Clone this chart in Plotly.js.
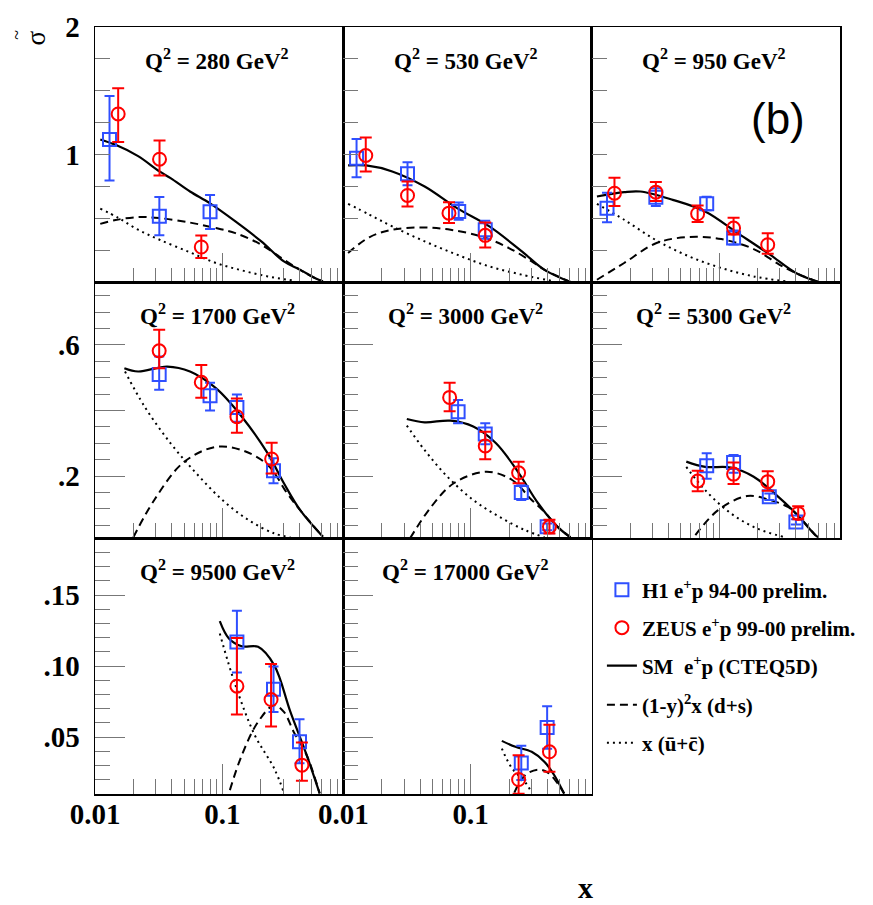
<!DOCTYPE html>
<html>
<head>
<meta charset="utf-8">
<script src="https://cdn.plot.ly/plotly-3.0.1.min.js"></script>
<style>html,body{margin:0;padding:0;background:#fff;}#chart{width:873px;height:905px;}</style>
</head>
<body>
<div id="chart"></div>
<script>
// ---------------- data ----------------
const q2Values = [280, 530, 950, 1700, 3000, 5300, 9500, 17000];

// Q2 = 280
const h1X_280 = [0.013, 0.032, 0.080];
const h1Y_280 = [1.12, 0.52, 0.555];
const h1Up_280 = [0.34, 0.15, 0.13];
const h1Dn_280 = [0.32, 0.15, 0.135];
const zeusX_280 = [0.0152, 0.0321, 0.0683];
const zeusY_280 = [1.32, 0.966, 0.279];
const zeusUp_280 = [0.20, 0.146, 0.09];
const zeusDn_280 = [0.22, 0.128, 0.086];
const smX_280 = [0.0110, 0.0145, 0.0218, 0.0321, 0.0392, 0.0557, 0.080, 0.1265, 0.202, 0.304, 0.408, 0.547, 0.615];
const smY_280 = [1.12, 1.078, 0.99, 0.87, 0.818, 0.713, 0.62, 0.479, 0.323, 0.166, 0.10, 0.03, 0.01];
const dsX_280 = [0.0110, 0.0145, 0.0218, 0.0321, 0.0557, 0.0889, 0.1265, 0.202, 0.304, 0.408, 0.547, 0.615];
const dsY_280 = [0.46, 0.49, 0.513, 0.505, 0.47, 0.427, 0.388, 0.297, 0.18, 0.10, 0.03, 0.01];
const ucX_280 = [0.0110, 0.01535, 0.0218, 0.0321, 0.0557, 0.0889, 0.142, 0.227, 0.363];
const ucY_280 = [0.58, 0.505, 0.414, 0.336, 0.237, 0.154, 0.096, 0.049, 0.016];

// Q2 = 530
const h1X_530 = [0.0127, 0.0319, 0.0805, 0.130];
const h1Y_530 = [0.974, 0.852, 0.557, 0.414];
const h1Up_530 = [0.15, 0.09, 0.07, 0.07];
const h1Dn_530 = [0.15, 0.09, 0.065, 0.07];
const zeusX_530 = [0.0150, 0.0319, 0.0675, 0.130];
const zeusY_530 = [0.995, 0.682, 0.544, 0.37];
const zeusUp_530 = [0.14, 0.11, 0.086, 0.10];
const zeusDn_530 = [0.125, 0.086, 0.078, 0.094];
const smX_530 = [0.0109, 0.0151, 0.0242, 0.0435, 0.078, 0.140, 0.252, 0.380, 0.607];
const smY_530 = [0.917, 0.917, 0.87, 0.752, 0.583, 0.44, 0.245, 0.10, 0.005];
const dsX_530 = [0.0109, 0.0161, 0.0242, 0.041, 0.0695, 0.125, 0.1995, 0.301, 0.38, 0.607];
const dsY_530 = [0.232, 0.357, 0.414, 0.432, 0.414, 0.357, 0.271, 0.166, 0.10, 0.005];
const ucX_530 = [0.0109, 0.0161, 0.0242, 0.0435, 0.078, 0.140, 0.252, 0.453];
const ucY_530 = [0.617, 0.531, 0.44, 0.323, 0.219, 0.127, 0.0625, 0.01];

// Q2 = 950
const h1X_950 = [0.0132, 0.0319, 0.080, 0.130];
const h1Y_950 = [0.583, 0.669, 0.617, 0.349];
const h1Up_950 = [0.12, 0.07, 0.055, 0.06];
const h1Dn_950 = [0.11, 0.07, 0.05, 0.05];
const zeusX_950 = [0.0151, 0.0319, 0.0679, 0.130, 0.241];
const zeusY_950 = [0.70, 0.708, 0.539, 0.427, 0.297];
const zeusUp_950 = [0.12, 0.08, 0.065, 0.08, 0.09];
const zeusDn_950 = [0.10, 0.07, 0.065, 0.05, 0.07];
const smX_950 = [0.011, 0.018, 0.0241, 0.0433, 0.0778, 0.140, 0.251, 0.401, 0.605];
const smY_950 = [0.674, 0.708, 0.713, 0.648, 0.557, 0.388, 0.219, 0.076, 0.005];
const dsX_950 = [0.011, 0.018, 0.0323, 0.058, 0.104, 0.187, 0.299, 0.401, 0.605];
const dsY_950 = [0.023, 0.154, 0.31, 0.357, 0.341, 0.263, 0.14, 0.076, 0.005];
const ucX_950 = [0.011, 0.018, 0.0323, 0.058, 0.104, 0.187, 0.336];
const ucY_950 = [0.617, 0.492, 0.33, 0.206, 0.115, 0.049, 0.01];

// Q2 = 1700
const h1X_1700 = [0.0319, 0.080, 0.130, 0.252];
const h1Y_1700 = [0.51, 0.445, 0.409, 0.216];
const h1Up_1700 = [0.055, 0.04, 0.04, 0.038];
const h1Dn_1700 = [0.047, 0.045, 0.043, 0.038];
const zeusX_1700 = [0.0319, 0.0683, 0.130, 0.2436];
const zeusY_1700 = [0.582, 0.486, 0.381, 0.252];
const zeusUp_1700 = [0.064, 0.053, 0.056, 0.05];
const zeusDn_1700 = [0.053, 0.047, 0.049, 0.044];
const smX_1700 = [0.017, 0.0218, 0.0369, 0.0557, 0.0889, 0.142, 0.227, 0.304, 0.408, 0.615];
const smY_1700 = [0.529, 0.519, 0.534, 0.519, 0.468, 0.381, 0.269, 0.178, 0.096, 0.015];
const dsX_1700 = [0.02, 0.0292, 0.0496, 0.0889, 0.142, 0.227, 0.323, 0.408, 0.615];
const dsY_1700 = [0.013, 0.127, 0.242, 0.289, 0.279, 0.234, 0.147, 0.096, 0.015];
const ucX_1700 = [0.0172, 0.0245, 0.0392, 0.0625, 0.1, 0.16, 0.255, 0.342];
const ucY_1700 = [0.519, 0.412, 0.30, 0.208, 0.127, 0.066, 0.025, 0.013];

// Q2 = 3000
const h1X_3000 = [0.0796, 0.130, 0.2494, 0.398];
const h1Y_3000 = [0.396, 0.328, 0.15, 0.045];
const h1Up_3000 = [0.036, 0.033, 0.022, 0.01];
const h1Dn_3000 = [0.035, 0.031, 0.023, 0.01];
const zeusX_3000 = [0.0683, 0.130, 0.2376, 0.415];
const zeusY_3000 = [0.44, 0.292, 0.21, 0.045];
const zeusUp_3000 = [0.045, 0.043, 0.034, 0.022];
const zeusDn_3000 = [0.042, 0.041, 0.032, 0.02];
const smX_3000 = [0.0315, 0.0435, 0.0695, 0.1047, 0.158, 0.2376, 0.338, 0.481, 0.607];
const smY_3000 = [0.374, 0.364, 0.369, 0.351, 0.30, 0.21, 0.117, 0.045, 0.013];
const dsX_3000 = [0.0334, 0.0489, 0.0736, 0.1324, 0.2115, 0.301, 0.38, 0.481, 0.607];
const dsY_3000 = [0.01, 0.106, 0.178, 0.213, 0.188, 0.127, 0.09, 0.045, 0.013];
const ucX_3000 = [0.0315, 0.0435, 0.0656, 0.1047, 0.167, 0.267, 0.38];
const ucY_3000 = [0.354, 0.279, 0.198, 0.127, 0.076, 0.035, 0.013];

// Q2 = 5300
const h1X_5300 = [0.080, 0.130, 0.248, 0.401];
const h1Y_5300 = [0.2315, 0.241, 0.137, 0.06];
const h1Up_5300 = [0.038, 0.023, 0.01, 0.008];
const h1Dn_5300 = [0.04, 0.031, 0.01, 0.008];
const zeusX_5300 = [0.068, 0.130, 0.241, 0.418];
const zeusY_5300 = [0.185, 0.206, 0.183, 0.086];
const zeusUp_5300 = [0.031, 0.035, 0.032, 0.022];
const zeusDn_5300 = [0.031, 0.03, 0.028, 0.018];
const smX_5300 = [0.0553, 0.0778, 0.124, 0.187, 0.282, 0.401, 0.570, 0.605];
const smY_5300 = [0.244, 0.228, 0.226, 0.198, 0.142, 0.086, 0.02, 0.013];
const dsX_5300 = [0.0652, 0.0983, 0.166, 0.251, 0.35, 0.401, 0.57];
const dsY_5300 = [0.02, 0.096, 0.139, 0.127, 0.105, 0.086, 0.02];
const ucX_5300 = [0.0553, 0.0778, 0.124, 0.1986, 0.317];
const ucY_5300 = [0.228, 0.157, 0.086, 0.04, 0.015];

// Q2 = 9500
const h1X_9500 = [0.130, 0.252, 0.403];
const h1Y_9500 = [0.1171, 0.0838, 0.0467];
const h1Up_9500 = [0.022, 0.016, 0.016];
const h1Dn_9500 = [0.0215, 0.016, 0.015];
const zeusX_9500 = [0.130, 0.241, 0.421];
const zeusY_9500 = [0.0859, 0.0765, 0.0303];
const zeusUp_9500 = [0.034, 0.025, 0.016];
const zeusDn_9500 = [0.020, 0.019, 0.011];
const smX_9500 = [0.0954, 0.1125, 0.142, 0.1906, 0.255, 0.342, 0.459, 0.58];
const smY_9500 = [0.1317, 0.1195, 0.114, 0.1136, 0.1007, 0.0678, 0.0373, 0.0104];
const dsX_9500 = [0.1145, 0.142, 0.1906, 0.255, 0.304, 0.363, 0.459, 0.58];
const dsY_9500 = [0.0127, 0.0373, 0.0608, 0.0725, 0.0678, 0.0537, 0.0373, 0.0104];
const ucX_9500 = [0.0954, 0.1265, 0.1796, 0.255, 0.304];
const ucY_9500 = [0.123, 0.0866, 0.0514, 0.028, 0.011];

// Q2 = 17000
const h1X_17000 = [0.2494, 0.398];
const h1Y_17000 = [0.0319, 0.0568];
const h1Up_17000 = [0.012, 0.015];
const h1Dn_17000 = [0.012, 0.015];
const zeusX_17000 = [0.2376, 0.415];
const zeusY_17000 = [0.0202, 0.0397];
const zeusUp_17000 = [0.017, 0.019];
const zeusDn_17000 = [0.01, 0.014];
const smX_17000 = [0.1755, 0.2244, 0.301, 0.380, 0.453, 0.541];
const smY_17000 = [0.0474, 0.0432, 0.0397, 0.0326, 0.0232, 0.0103];
const dsX_17000 = [0.22, 0.267, 0.338, 0.403, 0.481, 0.541];
const dsY_17000 = [0.011, 0.0232, 0.0272, 0.0251, 0.0174, 0.0103];
const ucX_17000 = [0.1755, 0.2113, 0.267, 0.301];
const ucY_17000 = [0.042, 0.028, 0.0185, 0.011];

// tick labels
const xMajorVals = [0.01, 0.1];
const xMajorText = ['0.01', '0.1'];
const xMinorVals = [0.02,0.03,0.04,0.05,0.06,0.07,0.08,0.09,0.2,0.3,0.4,0.5,0.6,0.7,0.8,0.9];
const yRow1Vals = [0.25,0.5,0.75,1.0,1.25,1.5,1.75,2.0];
const yRow1Text = ['','','','1','','','','2'];
const yRow2Vals = [0.2, 0.4, 0.6];
const yRow2Text = ['.2', '', '.6'];
const yRow3Vals = [0.05, 0.10, 0.15];
const yRow3Text = ['.05', '.10', '.15'];

const legendNames = ['H1 e<sup>+</sup>p 94-00 prelim.', 'ZEUS e<sup>+</sup>p 99-00 prelim.',
  'SM\u00A0 e<sup>+</sup>p (CTEQ5D)', '(1-y)<sup>2</sup>x (d+s)', 'x (\u016B+c\u0304)'];

// --------------- build ---------------
const panels = {
  280:  {h1:[h1X_280,h1Y_280,h1Up_280,h1Dn_280], ze:[zeusX_280,zeusY_280,zeusUp_280,zeusDn_280], sm:[smX_280,smY_280], ds:[dsX_280,dsY_280], uc:[ucX_280,ucY_280]},
  530:  {h1:[h1X_530,h1Y_530,h1Up_530,h1Dn_530], ze:[zeusX_530,zeusY_530,zeusUp_530,zeusDn_530], sm:[smX_530,smY_530], ds:[dsX_530,dsY_530], uc:[ucX_530,ucY_530]},
  950:  {h1:[h1X_950,h1Y_950,h1Up_950,h1Dn_950], ze:[zeusX_950,zeusY_950,zeusUp_950,zeusDn_950], sm:[smX_950,smY_950], ds:[dsX_950,dsY_950], uc:[ucX_950,ucY_950]},
  1700: {h1:[h1X_1700,h1Y_1700,h1Up_1700,h1Dn_1700], ze:[zeusX_1700,zeusY_1700,zeusUp_1700,zeusDn_1700], sm:[smX_1700,smY_1700], ds:[dsX_1700,dsY_1700], uc:[ucX_1700,ucY_1700]},
  3000: {h1:[h1X_3000,h1Y_3000,h1Up_3000,h1Dn_3000], ze:[zeusX_3000,zeusY_3000,zeusUp_3000,zeusDn_3000], sm:[smX_3000,smY_3000], ds:[dsX_3000,dsY_3000], uc:[ucX_3000,ucY_3000]},
  5300: {h1:[h1X_5300,h1Y_5300,h1Up_5300,h1Dn_5300], ze:[zeusX_5300,zeusY_5300,zeusUp_5300,zeusDn_5300], sm:[smX_5300,smY_5300], ds:[dsX_5300,dsY_5300], uc:[ucX_5300,ucY_5300]},
  9500: {h1:[h1X_9500,h1Y_9500,h1Up_9500,h1Dn_9500], ze:[zeusX_9500,zeusY_9500,zeusUp_9500,zeusDn_9500], sm:[smX_9500,smY_9500], ds:[dsX_9500,dsY_9500], uc:[ucX_9500,ucY_9500]},
  17000:{h1:[h1X_17000,h1Y_17000,h1Up_17000,h1Dn_17000], ze:[zeusX_17000,zeusY_17000,zeusUp_17000,zeusDn_17000], sm:[smX_17000,smY_17000], ds:[dsX_17000,dsY_17000], uc:[ucX_17000,ucY_17000]}
};

const BLUE = '#2f4fff', RED = '#ff0000';
const serifBold = {family:'Liberation Serif, Times New Roman, serif', weight:'bold', color:'#000'};
const traces = [];
const layout = {
  width: 873, height: 905,
  margin: {l: 95, r: 27, t: 27, b: 111},
  paper_bgcolor: '#fff', plot_bgcolor: 'rgba(0,0,0,0)',
  showlegend: true,
  annotations: [],
  font: {family: 'Liberation Serif, serif', color: '#000'}
};

const legendRows = [590, 628, 666, 705, 743];
const legendIds = ['legend', 'legend2', 'legend3', 'legend4', 'legend5'];
legendIds.forEach((id, k) => {
  layout[id] = {
    x: (606 - 95) / 751, xanchor: 'left',
    y: (794 - legendRows[k]) / 767, yanchor: 'middle',
    bgcolor: 'rgba(0,0,0,0)', borderwidth: 0,
    font: Object.assign({size: 21}, serifBold)
  };
});

q2Values.forEach((q, idx) => {
  const i = idx + 1;
  const r = Math.floor(idx / 3), c = idx % 3;
  const xa = i === 1 ? 'x' : 'x' + i, ya = i === 1 ? 'y' : 'y' + i;
  const xk = i === 1 ? 'xaxis' : 'xaxis' + i, yk = i === 1 ? 'yaxis' : 'yaxis' + i;
  const p = panels[q];
  const first = idx === 0;

  traces.push({x: p.uc[0], y: p.uc[1], xaxis: xa, yaxis: ya, mode: 'lines', type: 'scatter',
    line: {color: '#000', width: 2, dash: '2px,4px', shape: 'spline', smoothing: 1},
    name: legendNames[4], legend: 'legend5', showlegend: first, hoverinfo: 'skip'});
  traces.push({x: p.ds[0], y: p.ds[1], xaxis: xa, yaxis: ya, mode: 'lines', type: 'scatter',
    line: {color: '#000', width: 2, dash: '8px,5px', shape: 'spline', smoothing: 1},
    name: legendNames[3], legend: 'legend4', showlegend: first, hoverinfo: 'skip'});
  traces.push({x: p.sm[0], y: p.sm[1], xaxis: xa, yaxis: ya, mode: 'lines', type: 'scatter',
    line: {color: '#000', width: 2.2, shape: 'spline', smoothing: 1},
    name: legendNames[2], legend: 'legend3', showlegend: first, hoverinfo: 'skip'});
  traces.push({x: p.h1[0], y: p.h1[1], xaxis: xa, yaxis: ya, mode: 'markers', type: 'scatter',
    marker: {symbol: 'square-open', size: 13, color: BLUE, line: {color: BLUE, width: 2}},
    error_y: {type: 'data', symmetric: false, array: p.h1[2], arrayminus: p.h1[3], color: BLUE, thickness: 2, width: 5},
    name: legendNames[0], legend: 'legend', showlegend: first});
  traces.push({x: p.ze[0], y: p.ze[1], xaxis: xa, yaxis: ya, mode: 'markers', type: 'scatter',
    marker: {symbol: 'circle-open', size: 13, color: RED, line: {color: RED, width: 2}},
    error_y: {type: 'data', symmetric: false, array: p.ze[2], arrayminus: p.ze[3], color: RED, thickness: 2, width: 6},
    name: legendNames[1], legend: 'legend2', showlegend: first});

  layout[xk] = {
    type: 'log', domain: [c / 3, (c + 1) / 3], range: [-2, Math.log10(0.89)], anchor: ya,
    showline: true, mirror: true, linecolor: '#000', linewidth: 1.5,
    ticks: 'inside', ticklen: 30, tickcolor: '#777', tickwidth: 1,
    tickmode: 'array', tickvals: xMajorVals, ticktext: xMajorText,
    showticklabels: r === 2, ticklabelstandoff: -6,
    tickfont: Object.assign({size: 29}, serifBold),
    minor: {ticks: 'inside', ticklen: 15, tickcolor: '#777', tickwidth: 1, tickmode: 'array', tickvals: xMinorVals},
    showgrid: false, zeroline: false, fixedrange: true
  };
  const yVals = r === 0 ? yRow1Vals : (r === 1 ? yRow2Vals : yRow3Vals);
  const yText = r === 0 ? yRow1Text : (r === 1 ? yRow2Text : yRow3Text);
  const yRange = r === 0 ? [0, 2] : (r === 1 ? [0.01, 0.79] : [0.01, 0.19]);
  const yax = {
    domain: [1 - (r + 1) / 3, 1 - r / 3], range: yRange, anchor: xa,
    showline: true, mirror: true, linecolor: '#000', linewidth: 1.5,
    ticks: 'inside', ticklen: r === 0 ? 15 : 30, tickcolor: '#777', tickwidth: 1,
    tickmode: 'array', tickvals: yVals, ticktext: yText,
    showticklabels: c === 0, ticklabelstandoff: 8,
    tickfont: Object.assign({size: 29}, serifBold),
    showgrid: false, zeroline: false, fixedrange: true
  };
  if (r === 1) yax.minor = {ticks: 'inside', ticklen: 15, tickcolor: '#777', tickwidth: 1, dtick: 0.05, tick0: 0};
  if (r === 2) yax.minor = {ticks: 'inside', ticklen: 15, tickcolor: '#777', tickwidth: 1, dtick: 0.01, tick0: 0};
  layout[yk] = yax;

  layout.annotations.push({
    xref: xa + ' domain', yref: ya + ' domain', x: 0.5, y: 1, yshift: -32, xshift: -2,
    xanchor: 'center', yanchor: 'middle', showarrow: false,
    text: 'Q<sup>2</sup> = ' + q + ' GeV<sup>2</sup>',
    font: Object.assign({size: 23}, serifBold)
  });
});

layout.annotations.push({
  xref: 'paper', yref: 'paper', x: (783.5 - 95) / 751, y: (794 - 119) / 767,
  xanchor: 'center', yanchor: 'middle', showarrow: false, text: '(b)',
  font: {family: 'Liberation Sans, Arial, sans-serif', size: 44, color: '#000'}
});
layout.annotations.push({
  xref: 'paper', yref: 'paper', x: (589 - 95) / 751, y: (794 - 887) / 767,
  xanchor: 'center', yanchor: 'middle', showarrow: false, text: 'x',
  font: Object.assign({size: 30}, serifBold)
});
// y-axis symbol: sigma with tilde, rotated
layout.annotations.push({
  xref: 'paper', yref: 'paper', x: (36 - 95) / 751, y: (794 - 38) / 767,
  xanchor: 'center', yanchor: 'middle', showarrow: false, text: '\u03C3', textangle: -90,
  font: {family: 'Liberation Serif, serif', size: 27, color: '#000'}
});
layout.annotations.push({
  xref: 'paper', yref: 'paper', x: (16 - 95) / 751, y: (794 - 35) / 767,
  xanchor: 'center', yanchor: 'middle', showarrow: false, text: '~', textangle: -90,
  font: {family: 'Liberation Serif, serif', size: 18, color: '#000'}
});

Plotly.newPlot('chart', traces, layout, {displayModeBar: false, staticPlot: true});
</script>
</body>
</html>
